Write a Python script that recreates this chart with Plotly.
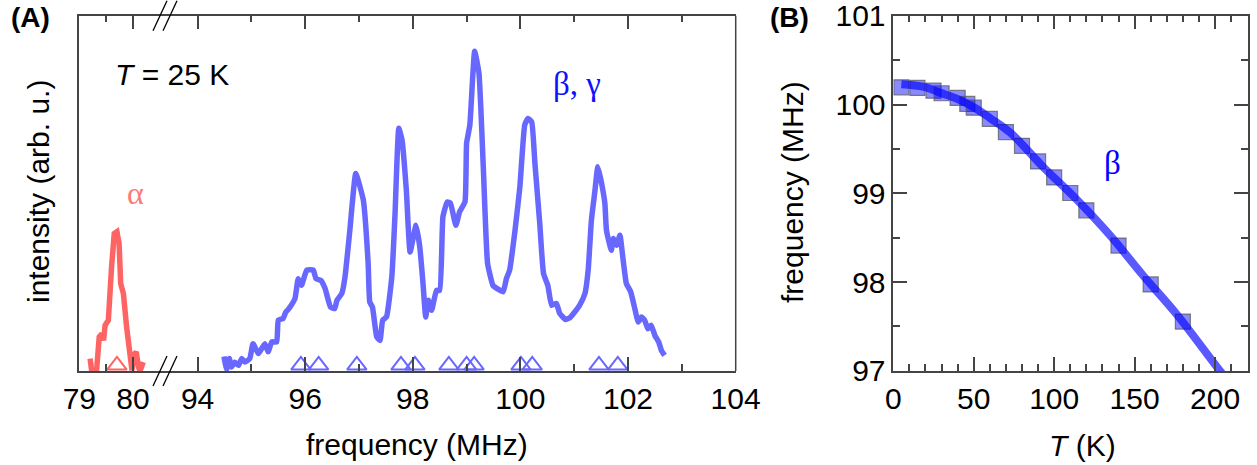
import plotly.graph_objects as go

# ---------------- data ----------------
alpha_freq = [79.20, 79.23, 79.32, 79.37, 79.42, 79.45, 79.48, 79.54, 79.60, 79.65,
              79.70, 79.74, 79.77, 79.82, 79.88, 79.94, 79.98, 80.01, 80.06, 80.10,
              80.13, 80.19]
alpha_int = [0.035, 0.000, 0.000, 0.096, 0.105, 0.086, 0.129, 0.143, 0.293, 0.387,
             0.392, 0.359, 0.246, 0.218, 0.124, 0.049, 0.002, 0.044, 0.054, 0.011,
             0.000, 0.025]

beta_freq = [94.49, 94.54, 94.59, 94.63, 94.69, 94.76, 94.82, 94.88, 94.97, 95.03,
             95.13, 95.25, 95.31, 95.38, 95.47, 95.50, 95.59, 95.64, 95.70, 95.81,
             95.87, 95.93, 96.03, 96.15, 96.20, 96.29, 96.37, 96.47, 96.55, 96.59,
             96.68, 96.74, 96.83, 96.94, 97.08, 97.17, 97.20, 97.25, 97.33, 97.39,
             97.44, 97.51, 97.61, 97.67, 97.74, 97.80, 97.88, 97.95, 98.06, 98.13,
             98.19, 98.24, 98.29, 98.35, 98.44, 98.50, 98.56, 98.64, 98.70, 98.80,
             98.87, 98.97, 99.00, 99.06, 99.15, 99.23, 99.31, 99.39, 99.49, 99.59,
             99.68, 99.74, 99.80, 99.90, 99.99, 100.08, 100.14, 100.21, 100.27, 100.36,
             100.43, 100.51, 100.58, 100.67, 100.73, 100.84, 100.92, 101.01, 101.10, 101.20,
             101.26, 101.32, 101.38, 101.44, 101.51, 101.57, 101.60, 101.69, 101.73, 101.79,
             101.85, 101.91, 101.97, 102.05, 102.12, 102.19, 102.25, 102.31, 102.37, 102.43,
             102.50, 102.57, 102.62, 102.68]
beta_int = [0.041, 0.005, 0.035, 0.011, 0.025, 0.016, 0.035, 0.025, 0.035, 0.077,
            0.049, 0.077, 0.054, 0.082, 0.082, 0.143, 0.148, 0.166, 0.176, 0.204,
            0.260, 0.241, 0.284, 0.284, 0.260, 0.255, 0.232, 0.180, 0.176, 0.199,
            0.218, 0.265, 0.396, 0.556, 0.481, 0.303, 0.194, 0.180, 0.096, 0.086,
            0.143, 0.152, 0.265, 0.443, 0.683, 0.650, 0.509, 0.335, 0.410, 0.349,
            0.246, 0.152, 0.199, 0.171, 0.227, 0.227, 0.434, 0.476, 0.472, 0.410,
            0.448, 0.476, 0.641, 0.692, 0.900, 0.838, 0.575, 0.303, 0.241, 0.230,
            0.223, 0.260, 0.284, 0.396, 0.518, 0.692, 0.711, 0.701, 0.584, 0.415,
            0.274, 0.241, 0.185, 0.190, 0.162, 0.145, 0.150, 0.166, 0.185, 0.218,
            0.284, 0.425, 0.500, 0.575, 0.528, 0.472, 0.396, 0.340, 0.373, 0.354,
            0.382, 0.312, 0.246, 0.223, 0.180, 0.138, 0.152, 0.143, 0.119, 0.129,
            0.100, 0.082, 0.058, 0.044]

alpha_lines = [79.70]
beta_lines = [95.92, 96.25, 96.96, 97.78, 98.04, 98.67, 99.00, 99.14,
              100.01, 100.22, 101.46, 101.81]

temp_K = [5, 15, 25, 30, 40, 46, 50, 60, 70, 80, 90, 100, 110, 120, 140, 160, 180]
freq_beta_T = [100.195, 100.188, 100.157, 100.128, 100.075, 100.008, 99.966, 99.839,
               99.690, 99.536, 99.360, 99.180, 99.004, 98.809, 98.412, 97.974, 97.555]

fit_T = [5, 19, 29, 39, 50, 60, 73, 93, 114, 135, 155, 176, 203, 212]
fit_f = [100.23, 100.20, 100.135, 100.07, 99.97, 99.85, 99.68, 99.30, 98.93, 98.52,
         98.08, 97.64, 97.00, 96.80]

ticks_left = [79, 80]
ticks_right = [94, 96, 98, 100, 102, 104]
ticks_T = [0, 50, 100, 150, 200]
ticks_f = [97, 98, 99, 100, 101]

# ---------------- styling ----------------
W, H = 1257, 465
def px(x): return x / W
def py(y): return 1 - y / H

SANS = "Liberation Sans, Arial, sans-serif"
SERIF = "Liberation Serif, Times New Roman, serif"
AX = "#444444"
RED = "#ff6464"
BLUE = "#6868ff"
TRI_Y = 0.016

fig = go.Figure()
fig.add_trace(go.Scatter(x=alpha_freq, y=alpha_int, mode="lines",
                         line=dict(color=RED, width=5.5), xaxis="x", yaxis="y"))
fig.add_trace(go.Scatter(x=alpha_lines, y=[TRI_Y] * len(alpha_lines), mode="markers",
                         marker=dict(symbol="triangle-up-open", size=17, color=RED,
                                     line=dict(width=2, color=RED)),
                         xaxis="x", yaxis="y"))
fig.add_trace(go.Scatter(x=beta_freq, y=beta_int, mode="lines",
                         line=dict(color=BLUE, width=5.5, shape="spline", smoothing=0.4),
                         xaxis="x2", yaxis="y"))
fig.add_trace(go.Scatter(x=beta_lines, y=[TRI_Y] * len(beta_lines), mode="markers",
                         marker=dict(symbol="triangle-up-open", size=17, color=BLUE,
                                     line=dict(width=2, color=BLUE)),
                         xaxis="x2", yaxis="y"))
fig.add_trace(go.Scatter(x=temp_K, y=freq_beta_T, mode="markers",
                         marker=dict(symbol="square", size=15, color="rgba(0,0,255,0.46)",
                                     line=dict(width=1.2, color="rgba(90,90,90,0.75)")),
                         xaxis="x3", yaxis="y3"))
fig.add_trace(go.Scatter(x=fit_T, y=fit_f, mode="lines", line_shape="spline",
                         line=dict(color="rgba(0,0,255,0.65)", width=8),
                         xaxis="x3", yaxis="y3"))

tickfont = dict(family=SANS, size=30, color="black")
common = dict(ticks="inside", ticklen=14, tickwidth=1.5, tickcolor=AX,
              showline=True, linecolor=AX, linewidth=1.5, showgrid=False,
              zeroline=False, tickfont=tickfont, automargin=False,
              ticklabeloverflow="allow")

A_TOP, A_BOT = 15.7, 371
A_L, A_BRK, A_R = 79.3, 165, 735.7
B_L, B_R = 893.3, 1247.7

fig.update_layout(
    width=W, height=H, margin=dict(l=0, r=0, t=0, b=0, pad=0, autoexpand=False),
    paper_bgcolor="white", plot_bgcolor="rgba(0,0,0,0)", showlegend=False,
    xaxis=dict(domain=[px(A_L), px(A_BRK)], range=[78.999, 80.595], anchor="y",
               tickmode="array", tickvals=ticks_left, mirror="allticks",
               minor=dict(tickvals=[79.5], ticks="inside", ticklen=7,
                          tickwidth=1.5, tickcolor=AX), **common),
    xaxis2=dict(domain=[px(A_BRK), px(A_R)], range=[93.394, 104.002], anchor="y",
                tickmode="array", tickvals=ticks_right, mirror="allticks",
                minor=dict(tickvals=[95, 97, 99, 101, 103], ticks="inside", ticklen=7,
                           tickwidth=1.5, tickcolor=AX), **common),
    yaxis=dict(domain=[py(A_BOT), py(A_TOP)], range=[0, 1], anchor="x",
               showticklabels=False, ticks="", showline=True, linecolor=AX,
               linewidth=1.5, showgrid=False, zeroline=False, automargin=False),
    xaxis3=dict(domain=[px(B_L), px(B_R)], range=[-0.01, 220.3], anchor="y3",
                tickmode="array", tickvals=ticks_T, mirror="allticks",
                minor=dict(dtick=10, tick0=0, ticks="inside", ticklen=7,
                           tickwidth=1.5, tickcolor=AX), **common),
    yaxis3=dict(domain=[py(A_BOT), py(A_TOP)], range=[96.998, 101.002], anchor="x3",
                tickmode="array", tickvals=ticks_f, mirror="allticks",
                minor=dict(dtick=0.5, tick0=97, ticks="inside", ticklen=7,
                           tickwidth=1.5, tickcolor=AX), **common),
)

shapes = [dict(type="line", xref="paper", yref="paper", x0=px(A_R), x1=px(A_R),
               y0=py(A_BOT), y1=py(A_TOP), line=dict(color=AX, width=1.5))]
for yc in (A_TOP, A_BOT):
    for dx in (0, 10):
        shapes.append(dict(type="line", xref="paper", yref="paper",
                           x0=px(153 + dx), y0=py(yc + 15), x1=px(167 + dx), y1=py(yc - 15),
                           line=dict(color="black", width=1.3)))
fig.update_layout(shapes=shapes)

def ann(text, x, y, size=30, color="black", family=SANS, xanchor="center",
        yanchor="middle", textangle=0):
    return dict(text=text, x=px(x), y=py(y), xref="paper", yref="paper",
                showarrow=False, xanchor=xanchor, yanchor=yanchor,
                textangle=textangle, font=dict(size=size, color=color, family=family))

fig.update_layout(annotations=[
    ann("<b>(A)</b>", 30, 17, size=28),
    ann("<b>(B)</b>", 790, 17, size=28),
    ann("<i>T</i> = 25 K", 113, 75, xanchor="left"),
    ann("α", 135, 193, size=32, color="#ff7878", family=SERIF),
    ann("β, γ", 551, 84, size=33, color="#1010ff", family=SERIF, xanchor="left"),
    ann("β", 1112, 163, size=33, color="#0000ff", family=SERIF),
    ann("frequency (MHz)", 417, 444),
    ann("<i>T</i> (K)", 1082, 445),
    ann("intensity (arb. u.)", 39, 192, textangle=-90),
    ann("frequency (MHz)", 793, 192, textangle=-90),
])

fig.write_html("out.html", config={"displayModeBar": False},
               post_script="document.body.style.margin='0';document.body.style.overflow='hidden';")
